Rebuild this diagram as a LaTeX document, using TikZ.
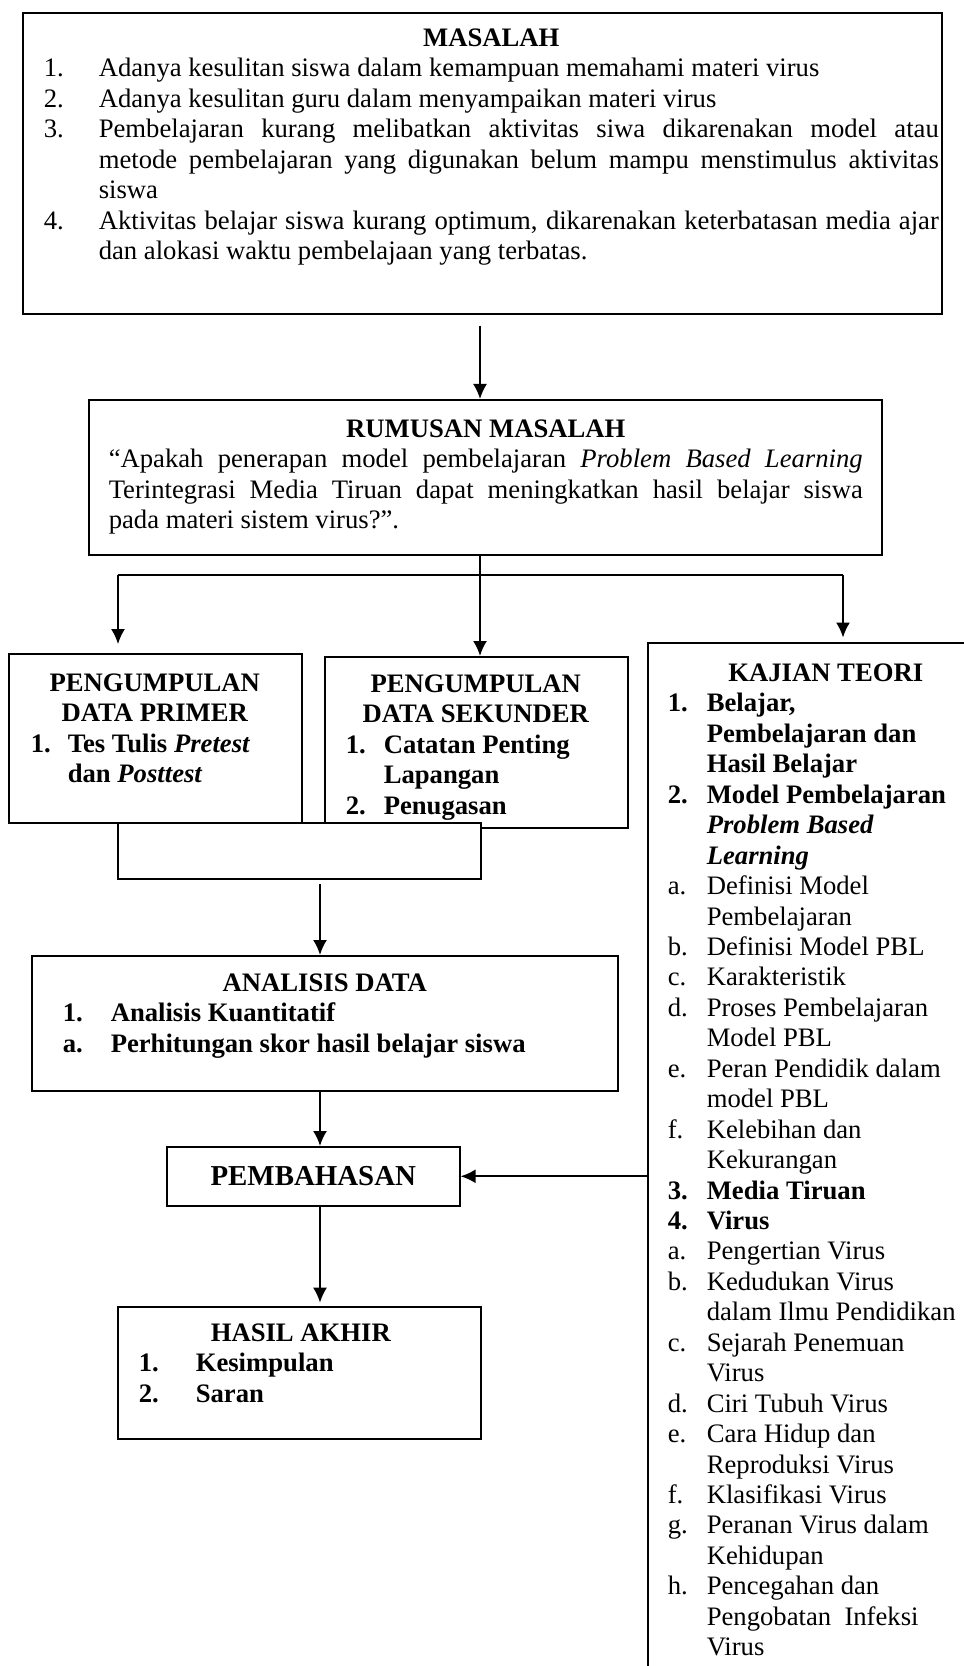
\documentclass[tikz,border=0pt]{standalone}
\usepackage{fontspec}
\setmainfont{Liberation Serif}
\usetikzlibrary{arrows.meta,positioning,calc}
\newlength\pxl
\setlength\pxl{0.45pt}
% box body: width, height, top pad, left skip, right skip, content (all in px)
\newcommand\boxbody[6]{%
  \begin{minipage}[c][#2\pxl][t]{#1\pxl}%
  \vspace*{#3\pxl}%
  \leftskip=#4\pxl \rightskip=#5\pxl
  #6%
  \end{minipage}}
\newcommand\ttl[1]{{\leftskip=\dimexpr\leftskip\relax plus 1fil\rightskip=\dimexpr\rightskip\relax plus 1fil\parfillskip=0pt\noindent\bfseries#1\par}}
\newcommand\itm[3]{\par\hangindent=#1\pxl\hangafter=1\noindent\makebox[#1\pxl][l]{#2}#3\par}

\begin{document}
\begin{tikzpicture}[x=0.45pt,y=-0.45pt,>={Latex[length=6.75pt,width=6.3pt]},
  box/.style={draw,line width=0.7pt,inner sep=0pt,anchor=north west,font=\fontsize{12}{13.7}\selectfont},
  link/.style={->,line width=0.9pt},
  wire/.style={line width=0.9pt}]
\useasboundingbox (0,0) rectangle (963,1666);

\node[box] (masalah) at (22,12) {\boxbody{919}{301}{16}{21}{3}{%
  \ttl{MASALAH}
  \itm{55}{1.}{Adanya kesulitan siswa dalam kemampuan memahami materi virus}
  \itm{55}{2.}{Adanya kesulitan guru dalam menyampaikan materi virus}
  \itm{55}{3.}{Pembelajaran kurang melibatkan aktivitas siwa dikarenakan model atau\linebreak metode pembelajaran yang digunakan belum mampu menstimulus aktivitas\linebreak siswa}
  \itm{55}{4.}{Aktivitas belajar siswa kurang optimum, dikarenakan keterbatasan media ajar\linebreak dan alokasi waktu pembelajaan yang terbatas.}}};

\node[box] (rumusan) at (88,399) {\boxbody{793}{155}{20}{20}{19}{%
  \ttl{RUMUSAN MASALAH}
  \noindent“Apakah penerapan model pembelajaran \textit{Problem Based Learning}\linebreak Terintegrasi Media Tiruan dapat meningkatkan hasil belajar siswa\linebreak pada materi sistem virus?”.\par}};

\node[box] (primer) at (8,653) {\boxbody{293}{169}{20}{22}{23}{\bfseries
  \ttl{PENGUMPULAN}
  \ttl{DATA PRIMER}
  \itm{37}{1.}{Tes Tulis \textit{Pretest}\\dan \textit{Posttest}}}};

\node[box] (sekunder) at (324,656) {\boxbody{303}{171}{18}{21}{22}{\bfseries
  \ttl{PENGUMPULAN}
  \ttl{DATA SEKUNDER}
  \itm{38}{1.}{Catatan Penting\\Lapangan}
  \itm{38}{2.}{Penugasan}}};

% empty joining box over the two data boxes
\node[box,fill=white] (merge) at (117,822) {\boxbody{363}{56}{0}{0}{0}{\mbox{}}};

\node[box] (analisis) at (31,955) {\boxbody{586}{135}{18}{31}{31}{\bfseries
  \ttl{ANALISIS DATA}
  \itm{48}{1.}{Analisis Kuantitatif}
  \itm{48}{a.}{Perhitungan skor hasil belajar siswa}}};

\node[box,font=\fontsize{13}{15}\selectfont] (pembahasan) at (166,1146) {\boxbody{293}{59}{19.5}{0}{0}{%
  \ttl{PEMBAHASAN}}};

\node[box] (hasil) at (117,1306) {\boxbody{363}{132}{17}{21}{18}{\bfseries
  \ttl{HASIL AKHIR}
  \itm{57}{1.}{Kesimpulan}
  \itm{57}{2.}{Saran}}};

\node[box] (kajian) at (647,642) {\boxbody{355}{1060}{21}{20}{19}{%
  \ttl{KAJIAN TEORI}
  \itm{39}{\textbf{1.}}{\textbf{Belajar,\\Pembelajaran dan\\Hasil Belajar}}
  \itm{39}{\textbf{2.}}{\textbf{Model Pembelajaran\\\textit{Problem Based\\Learning}}}
  \itm{39}{a.}{Definisi Model\\Pembelajaran}
  \itm{39}{b.}{Definisi Model PBL}
  \itm{39}{c.}{Karakteristik}
  \itm{39}{d.}{Proses Pembelajaran\\Model PBL}
  \itm{39}{e.}{Peran Pendidik dalam\\model PBL}
  \itm{39}{f.}{Kelebihan dan\\Kekurangan}
  \itm{39}{\textbf{3.}}{\textbf{Media Tiruan}}
  \itm{39}{\textbf{4.}}{\textbf{Virus}}
  \itm{39}{a.}{Pengertian Virus}
  \itm{39}{b.}{Kedudukan Virus\\dalam Ilmu Pendidikan}
  \itm{39}{c.}{Sejarah Penemuan\\Virus}
  \itm{39}{d.}{Ciri Tubuh Virus}
  \itm{39}{e.}{Cara Hidup dan\\Reproduksi Virus}
  \itm{39}{f.}{Klasifikasi Virus}
  \itm{39}{g.}{Peranan Virus dalam\\Kehidupan}
  \itm{39}{h.}{Pencegahan dan\\Pengobatan\ \ Infeksi\\Virus}}};

% connectors
\coordinate (spine) at (480,0);
\coordinate (trunk) at (320,0);
\coordinate (busl) at (118,575);
\coordinate (busr) at (843,575);
\draw[link,shorten <=5pt] (masalah.south -| spine) -- (rumusan.north -| spine);
\draw[wire] (busl) -- (busr);
\draw[link] (rumusan.south -| spine) -- (sekunder.north -| spine);
\draw[link,shorten >=4pt] (busl) -- (primer.north -| busl);
\draw[link,shorten >=2pt] (busr) -- (kajian.north -| busr);
\draw[link,shorten <=2pt] (merge.south -| trunk) -- (analisis.north -| trunk);
\draw[link] (analisis.south -| trunk) -- (pembahasan.north -| trunk);
\draw[link,shorten >=1.5pt] (pembahasan.south -| trunk) -- (hasil.north -| trunk);
\draw[link] (kajian.west |- pembahasan.east) -- (pembahasan.east);
\end{tikzpicture}
\end{document}
